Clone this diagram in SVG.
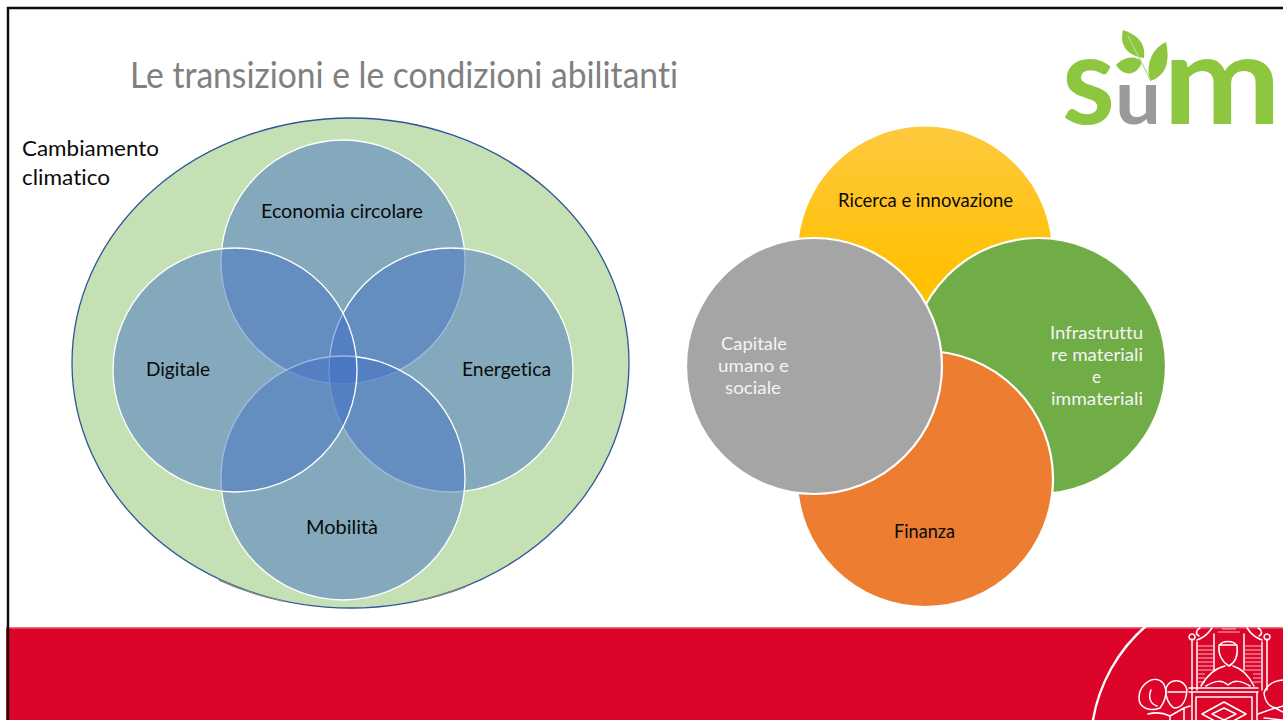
<svg xmlns="http://www.w3.org/2000/svg" width="1283" height="720" viewBox="0 0 1283 720">
<style>
text{font-family:Lato,"Open Sans","Liberation Sans",sans-serif;font-variant-ligatures:none}
.t{font-size:20px;fill:#0a0a0a}
.w{font-size:18px;fill:#f4f4f4}
.v{fill:#4472c4;fill-opacity:.5;stroke:#fff;stroke-width:1.3}
.c{stroke:#fff;stroke-width:2.2}
.s{fill:none;stroke:#fff;stroke-width:1.5;stroke-linecap:round;stroke-linejoin:round}
.h{fill:none;stroke:#fff;stroke-width:.9;stroke-opacity:.8}
</style>
<defs>
<linearGradient id="yg" x1="0" y1="0" x2="0" y2="1"><stop offset="0" stop-color="#ffc93f"/><stop offset=".62" stop-color="#ffc000"/></linearGradient>
</defs>
<rect width="1283" height="720" fill="#fff"/>
<rect x="6" y="628" width="1277" height="92" fill="#dc0429"/>
<rect x="6" y="627" width="1277" height="1.5" fill="#e8707f"/>
<path d="M8 720V8H1283" fill="none" stroke="#0a0a0a" stroke-width="2.4"/>
<text x="130" y="88" font-size="36" font-weight="400" fill="#808080" textLength="548" lengthAdjust="spacingAndGlyphs">Le transizioni e le condizioni abilitanti</text>

<g id="logo">
<text x="1062" y="124" font-size="124" font-weight="700" fill="#8dc63f" textLength="53" lengthAdjust="spacingAndGlyphs">s</text>
<text x="1115" y="124" font-size="76" font-weight="700" fill="#9a9a9c" textLength="46" lengthAdjust="spacingAndGlyphs">u</text>
<text x="1163" y="124" font-size="124" font-weight="700" fill="#8dc63f" textLength="118" lengthAdjust="spacingAndGlyphs">m</text>
<path d="M1123 30C1134 34 1146 40 1144 58C1128 56 1119 46 1123 30Z" fill="#8dc63f"/>
<path d="M1166 42C1170 60 1167 76 1150 81C1146 66 1150 50 1166 42Z" fill="#8dc63f"/>
<path d="M1116 65C1124 56 1137 55 1142 62C1138 75 1124 78 1116 65Z" fill="#8dc63f"/>
<path d="M1128 36L1151 81" stroke="#b5d98a" stroke-width="1.2" fill="none"/>
</g>

<g id="cambiamento-climatico">
<ellipse cx="350.5" cy="363" rx="278.5" ry="245" fill="#c5e0b4" stroke="#2f5597" stroke-width="1.3"/>
<path d="M219 580A278.5 245 0 0 0 283 601M417 601A278.5 245 0 0 0 465 587" fill="none" stroke="#7f8a80" stroke-width="1.5"/>
<text class="t" x="22" y="156" textLength="137" lengthAdjust="spacingAndGlyphs" style="font-size:22px">Cambiamento</text>
<text class="t" x="22" y="185" textLength="88" lengthAdjust="spacingAndGlyphs" style="font-size:22px">climatico</text>
</g>
<g id="economia-circolare"><circle class="v" cx="343" cy="262" r="122"/></g>
<g id="energetica"><circle class="v" cx="451" cy="370" r="122"/></g>
<g id="mobilita"><circle class="v" cx="343" cy="478" r="122"/></g>
<g id="digitale"><circle class="v" cx="235" cy="370" r="122"/></g>
<g id="venn-labels">
<text class="t" x="261" y="218" textLength="162" lengthAdjust="spacingAndGlyphs">Economia circolare</text>
<text class="t" x="146" y="376" textLength="64" lengthAdjust="spacingAndGlyphs">Digitale</text>
<text class="t" x="462" y="376" textLength="89" lengthAdjust="spacingAndGlyphs">Energetica</text>
<text class="t" x="306" y="534" textLength="72" lengthAdjust="spacingAndGlyphs">Mobilità</text>
</g>

<g id="ricerca"><circle class="c" cx="925" cy="253.5" r="128" fill="url(#yg)"/>
<text class="t" x="838" y="207" textLength="175" lengthAdjust="spacingAndGlyphs">Ricerca e innovazione</text></g>
<g id="infrastrutture"><circle class="c" cx="1038" cy="366" r="128" fill="#70ad47"/>
<text class="w" x="1050" y="339" textLength="93" lengthAdjust="spacingAndGlyphs">Infrastruttu</text>
<text class="w" x="1051" y="361" textLength="92" lengthAdjust="spacingAndGlyphs">re materiali</text>
<text class="w" x="1092" y="383" textLength="9" lengthAdjust="spacingAndGlyphs">e</text>
<text class="w" x="1051" y="405" textLength="92" lengthAdjust="spacingAndGlyphs">immateriali</text></g>
<g id="finanza"><circle class="c" cx="925" cy="479" r="128" fill="#ed7d31"/>
<text class="t" x="894" y="538" textLength="61" lengthAdjust="spacingAndGlyphs" style="font-size:18.5px">Finanza</text></g>
<g id="capitale"><circle class="c" cx="814" cy="366" r="128" fill="#a5a5a5"/>
<text class="w" x="721" y="350" textLength="66" lengthAdjust="spacingAndGlyphs">Capitale</text>
<text class="w" x="718" y="372" textLength="71" lengthAdjust="spacingAndGlyphs">umano e</text>
<text class="w" x="725" y="394" textLength="56" lengthAdjust="spacingAndGlyphs">sociale</text></g>

<g id="seal">
<path class="s" style="stroke-width:2.4" d="M1146 626C1118 650 1099 684 1093 720"/>
<path class="s" d="M1192 639V690M1197 642V690M1267 639V690M1262 642V690M1192 640a3 3 0 1 1 .1 0M1267 640a3 3 0 1 1 .1 0"/>
<path class="s" d="M1197 640C1203 638 1208 634 1212 628M1262 640C1256 638 1251 634 1247 628M1200 628C1196 630 1195 634 1199 636M1258 628C1262 630 1263 634 1259 636M1214 634V670M1244 634V670"/>
<path class="h" d="M1198 646H1213M1198 650H1213M1198 654H1213M1198 658H1213M1198 662H1213M1198 666H1213M1198 670H1213M1198 674H1205M1198 678H1205M1198 682H1205M1245 646H1261M1245 650H1261M1245 654H1261M1245 658H1261M1245 662H1261M1245 666H1261M1245 670H1261M1253 674H1261M1253 678H1261M1253 682H1261M1218 632H1240M1222 629H1236"/>
<path class="s" d="M1219 646C1222 640 1234 640 1237 646C1238 654 1236 662 1229 666C1222 662 1218 654 1219 646ZM1219 645L1237 645"/>
<path class="s" d="M1225 666C1216 668 1208 674 1201 686M1233 666C1240 668 1248 674 1254 686M1206 686C1216 680 1222 680 1228 685C1234 680 1240 680 1250 686"/>
<path class="s" d="M1189 688H1258M1189 692H1258M1192 692V720M1257 692V720M1196 697H1252V720M1196 697V720"/>
<path class="s" d="M1224 702L1246 714L1224 726L1202 714ZM1224 708L1236 714L1224 720L1212 714Z"/>
<path class="s" d="M1139 698C1139 684 1154 674 1163 683C1168 690 1166 700 1160 708C1150 712 1139 708 1139 698ZM1151 690C1148 697 1150 704 1157 706"/>
<path class="s" d="M1166 688C1170 678 1184 678 1187 690C1186 702 1182 708 1174 708C1168 704 1165 696 1166 688ZM1168 692H1186"/>
<path class="s" d="M1148 714C1156 712 1162 712 1170 716L1184 708V720M1170 716V720M1190 706L1184 708"/>
<path class="s" d="M1264 693C1268 680 1283 680 1283 680M1264 693C1265 702 1270 708 1277 708L1283 706M1258 714L1275 708L1283 712M1264 718L1283 720"/>
</g>
</svg>
